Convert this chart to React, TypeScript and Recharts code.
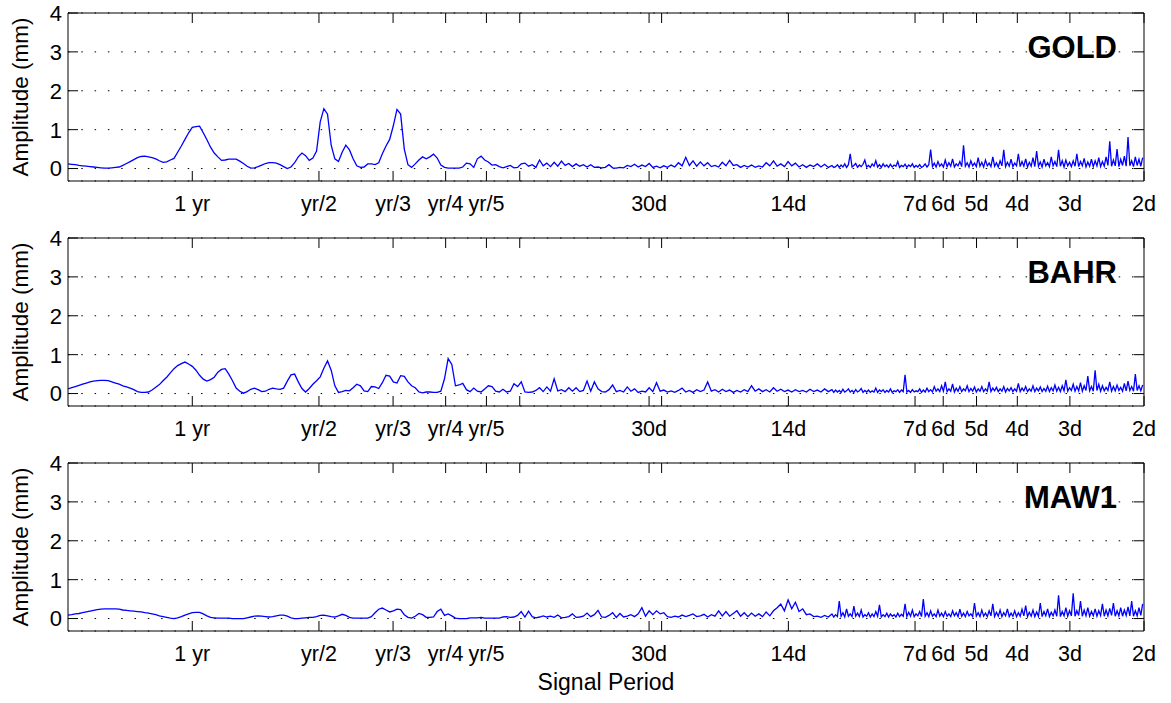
import React from 'react';
import { LineChart, Line, XAxis, YAxis, CartesianGrid } from 'recharts';

// Frequency grid (cycles per year)
const FREQ = [
  0.5066, 0.5169, 0.5273, 0.5380, 0.5488, 0.5599, 0.5712, 0.5827, 0.5945, 0.6065,
  0.6188, 0.6313, 0.6440, 0.6570, 0.6703, 0.6839, 0.6977, 0.7118, 0.7261, 0.7408,
  0.7558, 0.7711, 0.7866, 0.8025, 0.8187, 0.8353, 0.8521, 0.8694, 0.8869, 0.9048,
  0.9231, 0.9418, 0.9608, 0.9802, 1, 1.0202, 1.0408, 1.0618, 1.0833, 1.1052,
  1.1275, 1.1503, 1.1735, 1.1972, 1.2214, 1.2461, 1.2712, 1.2969, 1.3231, 1.3499,
  1.3771, 1.4049, 1.4333, 1.4623, 1.4918, 1.5220, 1.5527, 1.5841, 1.6161, 1.6487,
  1.6820, 1.7160, 1.7507, 1.7860, 1.8221, 1.8589, 1.8965, 1.9348, 1.9739, 2.0138,
  2.0544, 2.0959, 2.1383, 2.1815, 2.2255, 2.2705, 2.3164, 2.3632, 2.4109, 2.4596,
  2.5093, 2.5600, 2.6117, 2.6645, 2.7183, 2.7732, 2.8292, 2.8864, 2.9447, 3.0042,
  3.0649, 3.1268, 3.1899, 3.2544, 3.3201, 3.3872, 3.4556, 3.5254, 3.5966, 3.6693,
  3.7434, 3.8190, 3.8962, 3.9749, 4.0552, 4.1371, 4.2207, 4.3060, 4.3929, 4.4817,
  4.5722, 4.6646, 4.7588, 4.8550, 4.9530, 5.0531, 5.1552, 5.2593, 5.3656, 5.4739,
  5.5845, 5.6973, 5.8124, 5.9299, 6.0496, 6.1719, 6.2965, 6.4237, 6.5535, 6.6859,
  6.8210, 6.9588, 7.0993, 7.2427, 7.3891, 7.5383, 7.6906, 7.8460, 8.0045, 8.1662,
  8.3311, 8.4994, 8.6711, 8.8463, 9.0250, 9.2073, 9.3933, 9.5831, 9.7767, 9.9742,
  10.176, 10.381, 10.591, 10.805, 11.023, 11.246, 11.473, 11.705, 11.941, 12.182,
  12.429, 12.680, 12.936, 13.197, 13.464, 13.736, 14.013, 14.296, 14.585, 14.880,
  15.180, 15.487, 15.800, 16.119, 16.445, 16.777, 17.116, 17.462, 17.814, 18.174,
  18.541, 18.916, 19.298, 19.688, 20.086, 20.491, 20.905, 21.328, 21.758, 22.198,
  22.646, 23.104, 23.571, 24.047, 24.533, 25.028, 25.534, 26.050, 26.576, 27.113,
  27.660, 28.219, 28.789, 29.371, 29.964, 30.569, 31.187, 31.817, 32.460, 33.115,
  33.448, 33.784, 34.124, 34.467, 34.813, 35.163, 35.516, 35.874, 36.235, 36.598,
  36.966, 37.338, 37.713, 38.092, 38.475, 38.861, 39.252, 39.646, 40.044, 40.447,
  40.853, 41.264, 41.679, 42.098, 42.521, 42.948, 43.380, 43.816, 44.256, 44.701,
  45.150, 45.604, 46.062, 46.525, 46.993, 47.465, 47.942, 48.424, 48.911, 49.402,
  49.898, 50.400, 50.907, 51.419, 51.936, 52.457, 52.984, 53.517, 54.055, 54.598,
  55.147, 55.701, 56.261, 56.826, 57.397, 57.974, 58.557, 59.145, 59.739, 60.340,
  60.946, 61.559, 62.178, 62.803, 63.434, 64.072, 64.716, 65.366, 66.023, 66.686,
  67.356, 68.033, 68.717, 69.408, 70.106, 70.810, 71.522, 72.240, 72.966, 73.700,
  74.441, 75.189, 75.945, 76.708, 77.479, 78.257, 79.044, 79.838, 80.640, 81.451,
  82.270, 83.096, 83.931, 84.775, 85.627, 86.488, 87.357, 88.235, 89.122, 90.017,
  90.922, 91.836, 92.759, 93.691, 94.633, 95.583, 96.544, 97.514, 98.494, 99.484,
  100.48, 101.49, 102.51, 103.54, 104.58, 105.64, 106.70, 107.77, 108.85, 109.95,
  111.06, 112.17, 113.30, 114.43, 115.58, 116.75, 117.92, 119.10, 120.30, 121.51,
  122.73, 123.97, 125.22, 126.47, 127.74, 129.02, 130.32, 131.63, 132.95, 134.29,
  135.64, 137.00, 138.38, 139.77, 141.17, 142.59, 144.02, 145.47, 146.93, 148.41,
  149.90, 151.41, 152.93, 154.47, 156.02, 157.59, 159.17, 160.77, 162.39, 164.02,
  165.67, 167.34, 169.02, 170.72, 172.44, 174.16, 175.91, 177.68, 179.47, 181.27,
];

// Amplitudes (mm)
const GOLD = [
  0.12, 0.11, 0.10, 0.08, 0.07, 0.06, 0.05, 0.04, 0.03, 0.02,
  0.01, 0.01, 0.02, 0.03, 0.04, 0.08, 0.13, 0.18, 0.23, 0.28,
  0.31, 0.32, 0.30, 0.28, 0.25, 0.20, 0.16, 0.17, 0.22, 0.26,
  0.42, 0.58, 0.75, 0.92, 1.06, 1.08, 1.09, 0.92, 0.74, 0.55,
  0.40, 0.30, 0.21, 0.22, 0.24, 0.24, 0.24, 0.19, 0.13, 0.06,
  0.01, 0.02, 0.05, 0.09, 0.13, 0.15, 0.15, 0.14, 0.10, 0.05,
  0.00, 0.04, 0.15, 0.30, 0.40, 0.33, 0.21, 0.27, 0.45, 1.20,
  1.54, 1.40, 0.60, 0.25, 0.18, 0.42, 0.60, 0.48, 0.25, 0.07,
  0.03, 0.04, 0.12, 0.12, 0.10, 0.15, 0.38, 0.58, 0.75, 1.10,
  1.52, 1.40, 0.50, 0.10, 0.03, 0.12, 0.22, 0.30, 0.25, 0.30,
  0.37, 0.27, 0.09, 0.03, 0.01, 0.01, 0.01, 0.01, 0.04, 0.14,
  0.12, 0.03, 0.25, 0.32, 0.22, 0.17, 0.09, 0.10, 0.05, 0.02,
  0.05, 0.08, 0.02, 0.03, 0.12, 0.14, 0.06, 0.10, 0.03, 0.22,
  0.07, 0.14, 0.05, 0.16, 0.06, 0.19, 0.08, 0.13, 0.05, 0.12,
  0.06, 0.10, 0.04, 0.10, 0.03, 0.04, 0.02, 0.03, 0.10, 0.02,
  0.01, 0.03, 0.02, 0.08, 0.05, 0.11, 0.04, 0.09, 0.05, 0.13,
  0.03, 0.06, 0.02, 0.07, 0.03, 0.09, 0.04, 0.15, 0.07, 0.29,
  0.08, 0.20, 0.06, 0.17, 0.07, 0.15, 0.05, 0.08, 0.04, 0.16,
  0.07, 0.21, 0.08, 0.10, 0.03, 0.08, 0.04, 0.09, 0.03, 0.07,
  0.04, 0.15, 0.07, 0.20, 0.06, 0.12, 0.05, 0.18, 0.07, 0.14,
  0.04, 0.10, 0.03, 0.09, 0.05, 0.12, 0.04, 0.11, 0.03, 0.08,
  0.03, 0.05, 0.10, 0.03, 0.09, 0.04, 0.12, 0.03, 0.10, 0.38,
  0.04, 0.08, 0.13, 0.03, 0.09, 0.05, 0.11, 0.22, 0.04, 0.08,
  0.03, 0.12, 0.06, 0.20, 0.04, 0.10, 0.03, 0.12, 0.05, 0.09,
  0.03, 0.11, 0.04, 0.09, 0.06, 0.18, 0.03, 0.08, 0.05, 0.11,
  0.03, 0.09, 0.05, 0.12, 0.03, 0.08, 0.04, 0.10, 0.03, 0.06,
  0.12, 0.04, 0.10, 0.49, 0.05, 0.14, 0.04, 0.18, 0.06, 0.12,
  0.04, 0.22, 0.05, 0.15, 0.06, 0.25, 0.04, 0.12, 0.07, 0.18,
  0.05, 0.60, 0.06, 0.15, 0.04, 0.20, 0.07, 0.14, 0.05, 0.28,
  0.06, 0.16, 0.04, 0.22, 0.07, 0.14, 0.05, 0.30, 0.06, 0.15,
  0.04, 0.20, 0.07, 0.48, 0.05, 0.16, 0.06, 0.24, 0.05, 0.14,
  0.07, 0.38, 0.05, 0.18, 0.06, 0.25, 0.04, 0.16, 0.06, 0.28,
  0.05, 0.45, 0.06, 0.17, 0.04, 0.24, 0.07, 0.15, 0.05, 0.30,
  0.07, 0.18, 0.05, 0.48, 0.06, 0.20, 0.04, 0.22, 0.07, 0.16,
  0.05, 0.20, 0.06, 0.38, 0.05, 0.18, 0.07, 0.26, 0.04, 0.17,
  0.06, 0.24, 0.05, 0.20, 0.07, 0.28, 0.05, 0.18, 0.06, 0.30,
  0.08, 0.70, 0.06, 0.22, 0.07, 0.50, 0.05, 0.24, 0.08, 0.32,
  0.06, 0.81, 0.07, 0.20, 0.05, 0.30, 0.08, 0.24, 0.06, 0.28,
];

const BAHR = [
  0.12, 0.15, 0.18, 0.21, 0.24, 0.27, 0.30, 0.32, 0.33, 0.34,
  0.34, 0.33, 0.30, 0.27, 0.24, 0.20, 0.17, 0.14, 0.10, 0.05,
  0.03, 0.03, 0.04, 0.09, 0.16, 0.23, 0.33, 0.42, 0.53, 0.64,
  0.72, 0.77, 0.81, 0.76, 0.70, 0.60, 0.47, 0.37, 0.32, 0.36,
  0.42, 0.55, 0.62, 0.64, 0.50, 0.33, 0.14, 0.06, 0.01, 0.05,
  0.11, 0.14, 0.10, 0.05, 0.06, 0.11, 0.14, 0.12, 0.11, 0.14,
  0.32, 0.48, 0.50, 0.30, 0.13, 0.04, 0.13, 0.24, 0.33, 0.43,
  0.65, 0.84, 0.60, 0.20, 0.03, 0.05, 0.08, 0.07, 0.15, 0.24,
  0.20, 0.07, 0.05, 0.18, 0.17, 0.13, 0.28, 0.47, 0.45, 0.30,
  0.27, 0.46, 0.44, 0.30, 0.20, 0.15, 0.04, 0.02, 0.04, 0.04,
  0.03, 0.03, 0.06, 0.38, 0.90, 0.75, 0.20, 0.22, 0.26, 0.10,
  0.05, 0.14, 0.06, 0.04, 0.12, 0.20, 0.18, 0.06, 0.04, 0.11,
  0.04, 0.06, 0.25, 0.18, 0.30, 0.04, 0.03, 0.04, 0.08, 0.15,
  0.05, 0.17, 0.06, 0.38, 0.07, 0.10, 0.05, 0.15, 0.06, 0.15,
  0.05, 0.08, 0.32, 0.06, 0.30, 0.12, 0.05, 0.04, 0.10, 0.22,
  0.05, 0.08, 0.04, 0.17, 0.06, 0.12, 0.03, 0.06, 0.04, 0.15,
  0.05, 0.28, 0.06, 0.09, 0.04, 0.07, 0.03, 0.08, 0.14, 0.04,
  0.08, 0.03, 0.10, 0.05, 0.09, 0.30, 0.06, 0.10, 0.04, 0.11,
  0.05, 0.09, 0.03, 0.08, 0.04, 0.10, 0.05, 0.20, 0.06, 0.12,
  0.05, 0.10, 0.04, 0.15, 0.06, 0.11, 0.05, 0.09, 0.04, 0.10,
  0.05, 0.08, 0.04, 0.11, 0.05, 0.09, 0.04, 0.12, 0.05, 0.10,
  0.03, 0.09, 0.04, 0.08, 0.03, 0.11, 0.04, 0.07, 0.12, 0.04,
  0.08, 0.03, 0.10, 0.04, 0.07, 0.13, 0.03, 0.08, 0.04, 0.09,
  0.03, 0.07, 0.04, 0.14, 0.03, 0.09, 0.05, 0.10, 0.03, 0.08,
  0.04, 0.12, 0.03, 0.07, 0.05, 0.10, 0.03, 0.09, 0.05, 0.48,
  0.04, 0.08, 0.03, 0.10, 0.04, 0.07, 0.05, 0.12, 0.03, 0.09,
  0.04, 0.14, 0.05, 0.10, 0.04, 0.18, 0.06, 0.12, 0.05, 0.20,
  0.06, 0.30, 0.05, 0.12, 0.06, 0.25, 0.04, 0.14, 0.06, 0.18,
  0.05, 0.12, 0.07, 0.20, 0.05, 0.13, 0.06, 0.17, 0.04, 0.12,
  0.06, 0.18, 0.05, 0.12, 0.06, 0.30, 0.05, 0.14, 0.07, 0.16,
  0.05, 0.12, 0.06, 0.18, 0.04, 0.13, 0.07, 0.15, 0.05, 0.12,
  0.06, 0.26, 0.05, 0.14, 0.07, 0.18, 0.05, 0.12, 0.06, 0.20,
  0.05, 0.14, 0.07, 0.17, 0.05, 0.13, 0.06, 0.19, 0.05, 0.15,
  0.07, 0.22, 0.06, 0.16, 0.05, 0.20, 0.07, 0.35, 0.06, 0.15,
  0.08, 0.24, 0.06, 0.18, 0.07, 0.28, 0.06, 0.20, 0.08, 0.45,
  0.07, 0.18, 0.06, 0.60, 0.08, 0.24, 0.06, 0.20, 0.07, 0.16,
  0.08, 0.30, 0.06, 0.18, 0.07, 0.22, 0.08, 0.16, 0.06, 0.26,
  0.07, 0.32, 0.08, 0.18, 0.06, 0.50, 0.08, 0.20, 0.07, 0.22,
];

const MAW1 = [
  0.09, 0.10, 0.12, 0.13, 0.15, 0.17, 0.19, 0.21, 0.23, 0.24,
  0.25, 0.25, 0.25, 0.25, 0.24, 0.22, 0.21, 0.20, 0.19, 0.18,
  0.17, 0.15, 0.14, 0.12, 0.10, 0.07, 0.05, 0.03, 0.01, 0.00,
  0.02, 0.05, 0.09, 0.12, 0.15, 0.16, 0.16, 0.12, 0.07, 0.03,
  0.02, 0.01, 0.01, 0.01, 0.01, 0.00, 0.00, 0.00, 0.00, 0.02,
  0.04, 0.06, 0.07, 0.06, 0.05, 0.04, 0.05, 0.07, 0.09, 0.09,
  0.06, 0.02, 0.00, 0.00, 0.01, 0.02, 0.03, 0.03, 0.05, 0.08,
  0.09, 0.07, 0.05, 0.04, 0.07, 0.11, 0.08, 0.03, 0.01, 0.01,
  0.01, 0.01, 0.01, 0.05, 0.15, 0.24, 0.27, 0.22, 0.17, 0.20,
  0.24, 0.23, 0.10, 0.03, 0.01, 0.06, 0.13, 0.10, 0.03, 0.03,
  0.04, 0.18, 0.24, 0.08, 0.12, 0.07, 0.01, 0.00, 0.00, 0.00,
  0.02, 0.02, 0.02, 0.03, 0.01, 0.01, 0.01, 0.01, 0.01, 0.04,
  0.05, 0.03, 0.04, 0.08, 0.18, 0.04, 0.19, 0.05, 0.02, 0.04,
  0.07, 0.04, 0.06, 0.03, 0.09, 0.02, 0.03, 0.05, 0.12, 0.03,
  0.04, 0.06, 0.14, 0.05, 0.10, 0.21, 0.04, 0.03, 0.08, 0.15,
  0.03, 0.13, 0.04, 0.06, 0.10, 0.05, 0.12, 0.28, 0.06, 0.20,
  0.10, 0.20, 0.12, 0.15, 0.05, 0.03, 0.06, 0.04, 0.09, 0.05,
  0.08, 0.12, 0.05, 0.07, 0.11, 0.04, 0.10, 0.06, 0.20, 0.07,
  0.18, 0.06, 0.13, 0.20, 0.06, 0.15, 0.05, 0.14, 0.06, 0.12,
  0.05, 0.17, 0.07, 0.20, 0.28, 0.37, 0.20, 0.48, 0.25, 0.42,
  0.18, 0.25, 0.10, 0.12, 0.05, 0.06, 0.03, 0.08, 0.04, 0.12,
  0.04, 0.10, 0.05, 0.45, 0.06, 0.15, 0.04, 0.25, 0.06, 0.12,
  0.05, 0.32, 0.06, 0.14, 0.05, 0.22, 0.04, 0.10, 0.06, 0.15,
  0.04, 0.12, 0.05, 0.18, 0.06, 0.35, 0.04, 0.10, 0.05, 0.14,
  0.04, 0.12, 0.06, 0.10, 0.04, 0.14, 0.05, 0.11, 0.06, 0.38,
  0.05, 0.16, 0.06, 0.22, 0.05, 0.12, 0.07, 0.18, 0.05, 0.50,
  0.06, 0.15, 0.05, 0.20, 0.06, 0.12, 0.05, 0.22, 0.06, 0.14,
  0.05, 0.18, 0.06, 0.12, 0.05, 0.20, 0.07, 0.15, 0.05, 0.24,
  0.06, 0.14, 0.05, 0.18, 0.07, 0.12, 0.05, 0.40, 0.06, 0.15,
  0.05, 0.22, 0.06, 0.14, 0.05, 0.20, 0.07, 0.38, 0.05, 0.16,
  0.06, 0.22, 0.05, 0.15, 0.07, 0.25, 0.05, 0.14, 0.06, 0.20,
  0.05, 0.15, 0.06, 0.24, 0.07, 0.33, 0.05, 0.16, 0.06, 0.22,
  0.05, 0.17, 0.06, 0.40, 0.05, 0.18, 0.07, 0.25, 0.05, 0.16,
  0.07, 0.22, 0.06, 0.60, 0.05, 0.18, 0.07, 0.28, 0.06, 0.20,
  0.07, 0.65, 0.06, 0.20, 0.08, 0.45, 0.06, 0.22, 0.07, 0.28,
  0.06, 0.18, 0.07, 0.25, 0.06, 0.20, 0.08, 0.38, 0.06, 0.22,
  0.07, 0.26, 0.08, 0.40, 0.06, 0.20, 0.07, 0.28, 0.06, 0.22,
  0.08, 0.30, 0.07, 0.45, 0.06, 0.20, 0.07, 0.28, 0.08, 0.38,
];

const STATIONS = ['GOLD', 'BAHR', 'MAW1'];
const SERIES = [GOLD, BAHR, MAW1];

// x ticks: frequency (cycles/yr) and labels
const TICK_FREQ = [1, 2, 3, 4, 5, 6, 12.175, 13.04, 26.089, 52.179, 60.875, 73.05, 91.3125, 121.75, 182.625];
const TICK_LABEL = ['1 yr', 'yr/2', 'yr/3', 'yr/4', 'yr/5', '', '30d', '', '14d', '7d', '6d', '5d', '4d', '3d', '2d'];
const Y_TICKS = [0, 1, 2, 3, 4];
const Y_DOMAIN = [-0.32, 4];
const X_DOMAIN = [0.5066, 182.625];

const FONT = '"Liberation Sans", Arial, Helvetica, sans-serif';
const W = 1171;
const PANEL_H = 225;
const PLOT_TOP = 13;
const PLOT_H = 168;
const MARGIN = { top: 12, right: 26, left: 0, bottom: 0 };
const TICK_LEN = 10;

function BottomTick(props: any) {
  const { x, y, payload } = props;
  const idx = TICK_FREQ.indexOf(payload.value);
  const label = idx >= 0 ? TICK_LABEL[idx] : '';
  return (
    <g>
      <line x1={x} x2={x} y1={y} y2={y - TICK_LEN} stroke="#000" strokeWidth={1} />
      {label ? (
        <text x={x} y={y + 30} textAnchor="middle" fontSize={21.5} fontFamily={FONT} fill="#000">
          {label}
        </text>
      ) : null}
    </g>
  );
}

function TopTick(props: any) {
  const { x, y } = props;
  return <line x1={x} x2={x} y1={y} y2={y + TICK_LEN} stroke="#000" strokeWidth={1} />;
}

function LeftTick(props: any) {
  const { x, y, payload } = props;
  return (
    <g>
      <line x1={x} x2={x + TICK_LEN} y1={y} y2={y} stroke="#000" strokeWidth={1} />
      <text x={x - 6} y={y} dy="0.36em" textAnchor="end" fontSize={22} fontFamily={FONT} fill="#000">
        {payload.value}
      </text>
    </g>
  );
}

function RightTick(props: any) {
  const { x, y } = props;
  return <line x1={x} x2={x - TICK_LEN} y1={y} y2={y} stroke="#000" strokeWidth={1} />;
}

function Panel({ values, height }: { values: number[]; height: number }) {
  const data = FREQ.map((f, i) => ({ f, v: values[i] }));
  const bottomH = height - PLOT_TOP - PLOT_H;
  const axisLine = { stroke: '#000', strokeWidth: 1 };
  return (
    <LineChart width={W} height={height} data={data} margin={MARGIN}>
      <XAxis
        xAxisId="t"
        orientation="top"
        dataKey="f"
        type="number"
        scale="log"
        domain={X_DOMAIN}
        allowDataOverflow
        ticks={TICK_FREQ}
        interval={0}
        height={1}
        tickSize={0}
        tickMargin={0}
        tickLine={false}
        axisLine={axisLine}
        tick={(p: any) => <TopTick {...p} />}
      />
      <XAxis
        xAxisId="b"
        orientation="bottom"
        dataKey="f"
        type="number"
        scale="log"
        domain={X_DOMAIN}
        allowDataOverflow
        ticks={TICK_FREQ}
        interval={0}
        height={bottomH}
        tickSize={0}
        tickMargin={0}
        tickLine={false}
        axisLine={axisLine}
        tick={(p: any) => <BottomTick {...p} />}
      />
      <YAxis
        yAxisId="l"
        orientation="left"
        type="number"
        domain={Y_DOMAIN}
        allowDataOverflow
        ticks={Y_TICKS}
        interval={0}
        width={68}
        tickSize={0}
        tickMargin={0}
        tickLine={false}
        axisLine={axisLine}
        tick={(p: any) => <LeftTick {...p} />}
      />
      <YAxis
        yAxisId="r"
        orientation="right"
        type="number"
        domain={Y_DOMAIN}
        allowDataOverflow
        ticks={Y_TICKS}
        interval={0}
        width={1}
        tickSize={0}
        tickMargin={0}
        tickLine={false}
        axisLine={axisLine}
        tick={(p: any) => <RightTick {...p} />}
      />
      <CartesianGrid
        xAxisId="b"
        yAxisId="l"
        vertical={false}
        stroke="#000"
        strokeWidth={1}
        strokeDasharray="1.5 11.8"
      />
      <Line
        xAxisId="b"
        yAxisId="l"
        dataKey="v"
        type="linear"
        stroke="#0000ff"
        strokeWidth={1.3}
        dot={false}
        activeDot={false}
        isAnimationActive={false}
      />
    </LineChart>
  );
}

export default function App() {
  return (
    <div style={{ position: 'absolute', left: 0, top: 0, width: W, height: 703, background: '#fff' }}>
      {SERIES.map((vals, i) => (
        <div key={STATIONS[i]} style={{ position: 'absolute', left: 0, top: i * PANEL_H }}>
          <Panel values={vals} height={i === 2 ? 703 - 2 * PANEL_H : PANEL_H} />
        </div>
      ))}
      <svg
        width={W}
        height={703}
        style={{ position: 'absolute', left: 0, top: 0, pointerEvents: 'none' }}
      >
        {STATIONS.map((name, i) => {
          const T = i * PANEL_H;
          const cy = T + PLOT_TOP + PLOT_H / 2;
          return (
            <g key={name}>
              <text
                x={28}
                y={cy}
                transform={`rotate(-90 28 ${cy})`}
                textAnchor="middle"
                fontSize={22.5}
                fontFamily={FONT}
                fill="#000"
              >
                Amplitude (mm)
              </text>
              <text
                x={1117}
                y={T + 57.5}
                textAnchor="end"
                fontSize={31}
                fontWeight="bold"
                fontFamily={FONT}
                fill="#000"
              >
                {name}
              </text>
            </g>
          );
        })}
        <text x={606} y={690} textAnchor="middle" fontSize={23} fontFamily={FONT} fill="#000">
          Signal Period
        </text>
      </svg>
    </div>
  );
}
